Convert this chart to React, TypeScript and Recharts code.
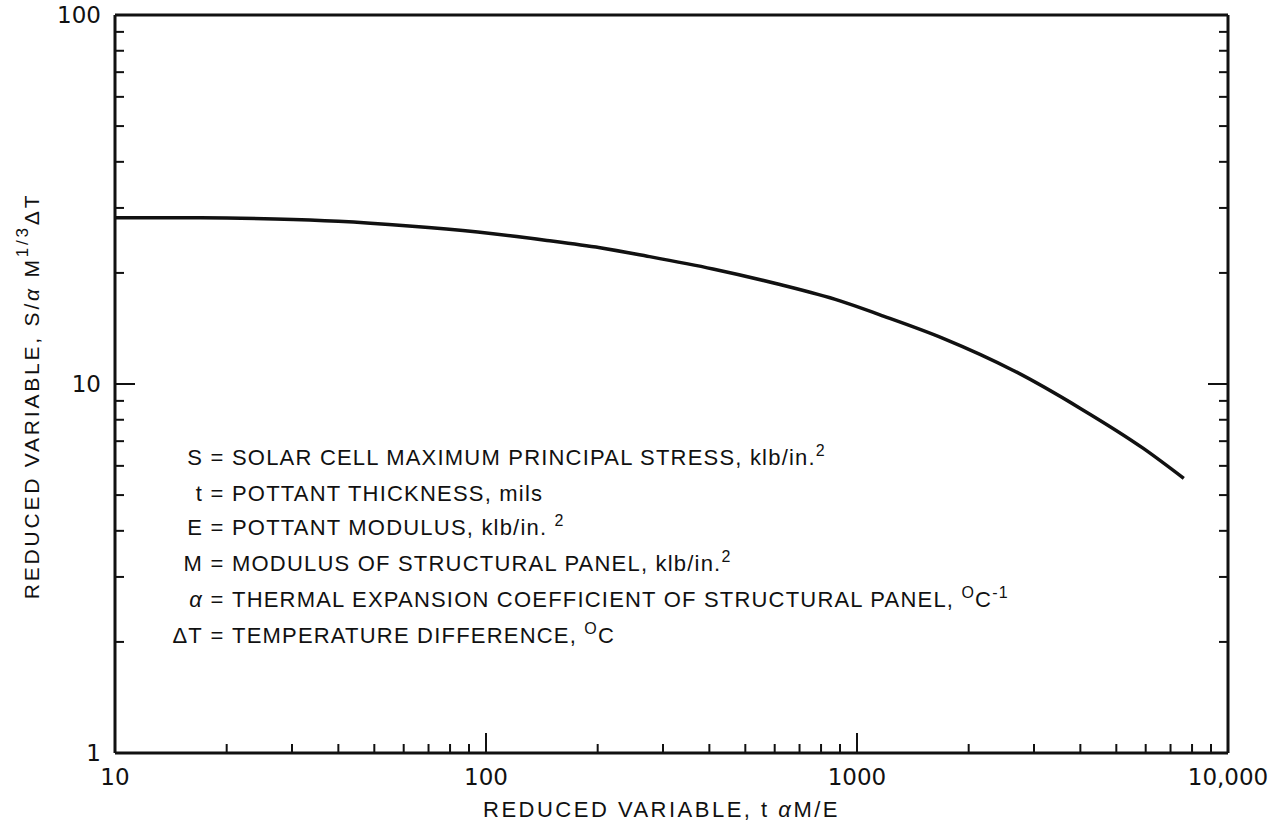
import React from 'react';
import { LineChart, Line, XAxis, YAxis } from 'recharts';

// curve
const reducedX = [10, 17, 27, 40, 62, 95, 146, 203, 272, 409, 620, 900, 1153, 1706, 2630, 3990, 5900, 7600];
const reducedS = [28.2, 28.2, 28.0, 27.6, 26.8, 25.8, 24.5, 23.4, 22.2, 20.5, 18.6, 16.8, 15.4, 13.3, 10.9, 8.6, 6.7, 5.55];

const xDecades = [10, 100, 1000, 10000];
const yDecades = [1, 10, 100];
const minorSteps = [2, 3, 4, 5, 6, 7, 8, 9];

const xLabels: Record<number, string> = { 10: '10', 100: '100', 1000: '1000', 10000: '10,000' };
const yLabels: Record<number, string> = { 1: '1', 10: '10', 100: '100' };

const withMinors = (decades: number[]) => {
  const out: number[] = [];
  decades.forEach((d, i) => {
    out.push(d);
    if (i < decades.length - 1) minorSteps.forEach((m) => out.push(d * m));
  });
  return out;
};

const xTicks = withMinors(xDecades);
const yTicks = withMinors(yDecades);

const data = reducedX.map((x, i) => ({ x, s: reducedS[i] }));

const INK = '#111';
const NUM_FONT = '"DejaVu Sans", sans-serif';
const TEXT_FONT = '"Liberation Sans", Arial, sans-serif';

const MAJOR = 20;
const MINOR = 9;

const XTick = ({ x, y, payload, top }: any) => {
  const major = xDecades.includes(payload.value);
  const len = major ? MAJOR : MINOR;
  const dir = top ? 1 : -1;
  return (
    <g>
      <line x1={x} y1={y} x2={x} y2={y + dir * len} stroke={INK} strokeWidth={2} />
      {!top && major && (
        <text x={x} y={y + 32} textAnchor="middle" fontFamily={NUM_FONT} fontSize={23} fill={INK}>
          {xLabels[payload.value]}
        </text>
      )}
    </g>
  );
};

const YTick = ({ x, y, payload, right }: any) => {
  const major = yDecades.includes(payload.value);
  const len = major ? MAJOR : MINOR;
  const dir = right ? -1 : 1;
  return (
    <g>
      <line x1={x} y1={y} x2={x + dir * len} y2={y} stroke={INK} strokeWidth={2} />
      {!right && major && (
        <text x={x - 14} y={y + 8} textAnchor="end" fontFamily={NUM_FONT} fontSize={23} fill={INK}>
          {yLabels[payload.value]}
        </text>
      )}
    </g>
  );
};

const XTitle = ({ viewBox }: any) => (
  <text
    x={viewBox.x + viewBox.width / 2 - 10}
    y={viewBox.y + 64}
    textAnchor="middle"
    fontFamily={TEXT_FONT}
    fontSize={22}
    letterSpacing={2.5}
    fill={INK}
  >
    REDUCED VARIABLE, t <tspan fontStyle="italic">α</tspan>M/E
  </text>
);

const YTitle = ({ viewBox }: any) => {
  const cx = viewBox.x + viewBox.width - 84;
  const cy = viewBox.y + viewBox.height / 2 + 12;
  return (
    <text
      x={cx}
      y={cy}
      transform={`rotate(-90, ${cx}, ${cy})`}
      textAnchor="middle"
      dominantBaseline="central"
      fontFamily={TEXT_FONT}
      fontSize={21}
      letterSpacing={2.8}
      fill={INK}
    >
      REDUCED VARIABLE, S/<tspan fontStyle="italic">α</tspan> M
      <tspan dy={-9} fontSize={17}>1/3</tspan>
      <tspan dy={9}>ΔT</tspan>
    </text>
  );
};

const legendRows: { sym: React.ReactNode; text: React.ReactNode }[] = [
  { sym: 'S', text: <>SOLAR CELL MAXIMUM PRINCIPAL STRESS, klb/in.<sup>2</sup></> },
  { sym: 't', text: <>POTTANT THICKNESS, mils</> },
  { sym: 'E', text: <>POTTANT MODULUS, klb/in. <sup>2</sup></> },
  { sym: 'M', text: <>MODULUS OF STRUCTURAL PANEL, klb/in.<sup>2</sup></> },
  { sym: <i>α</i>, text: <>THERMAL EXPANSION COEFFICIENT OF STRUCTURAL PANEL, <sup>O</sup>C<sup>-1</sup></> },
  { sym: 'ΔT', text: <>TEMPERATURE DIFFERENCE, <sup>O</sup>C</> },
];

const supStyle = `.legend sup{font-size:16px;vertical-align:0;position:relative;top:-9px;}`;

const axisLine = { stroke: INK, strokeWidth: 3 };

export default function App() {
  return (
    <div style={{ position: 'absolute', left: 0, top: 0, width: 1279, height: 825, background: '#fff', overflow: 'hidden' }}>
      <style>{supStyle}</style>
      <LineChart width={1279} height={825} data={data} margin={{ top: 0, right: 0, bottom: 0, left: 0 }}>
        <XAxis
          dataKey="x"
          type="number"
          scale="log"
          domain={[10, 10000]}
          allowDataOverflow
          ticks={xTicks}
          interval={0}
          height={72}
          tickSize={0}
          tickMargin={0}
          tick={<XTick />}
          axisLine={axisLine}
          label={{ content: <XTitle /> }}
        />
        <XAxis
          xAxisId="top"
          orientation="top"
          type="number"
          scale="log"
          domain={[10, 10000]}
          allowDataOverflow
          ticks={xTicks}
          interval={0}
          height={15}
          tickSize={0}
          tickMargin={0}
          tick={<XTick top />}
          axisLine={axisLine}
        />
        <YAxis
          type="number"
          scale="log"
          domain={[1, 100]}
          allowDataOverflow
          ticks={yTicks}
          interval={0}
          width={115}
          tickSize={0}
          tickMargin={0}
          tick={<YTick />}
          axisLine={axisLine}
          label={{ content: <YTitle /> }}
        />
        <YAxis
          yAxisId="right"
          orientation="right"
          type="number"
          scale="log"
          domain={[1, 100]}
          allowDataOverflow
          ticks={yTicks}
          interval={0}
          width={51}
          tickSize={0}
          tickMargin={0}
          tick={<YTick right />}
          axisLine={axisLine}
        />
        <Line
          type="monotone"
          dataKey="s"
          stroke={INK}
          strokeWidth={3.5}
          dot={false}
          isAnimationActive={false}
        />
      </LineChart>
      <div
        className="legend"
        style={{ position: 'absolute', left: 150, top: 441, fontFamily: TEXT_FONT, fontSize: 22, letterSpacing: 1.2, color: INK, lineHeight: '34px' }}
      >
        {legendRows.map((r, i) => (
          <div key={i} style={{ display: 'flex', whiteSpace: 'nowrap' }}>
            <span style={{ width: 53, textAlign: 'right' }}>{r.sym}</span>
            <span style={{ width: 29, textAlign: 'center' }}>=</span>
            <span>{r.text}</span>
          </div>
        ))}
      </div>
    </div>
  );
}
